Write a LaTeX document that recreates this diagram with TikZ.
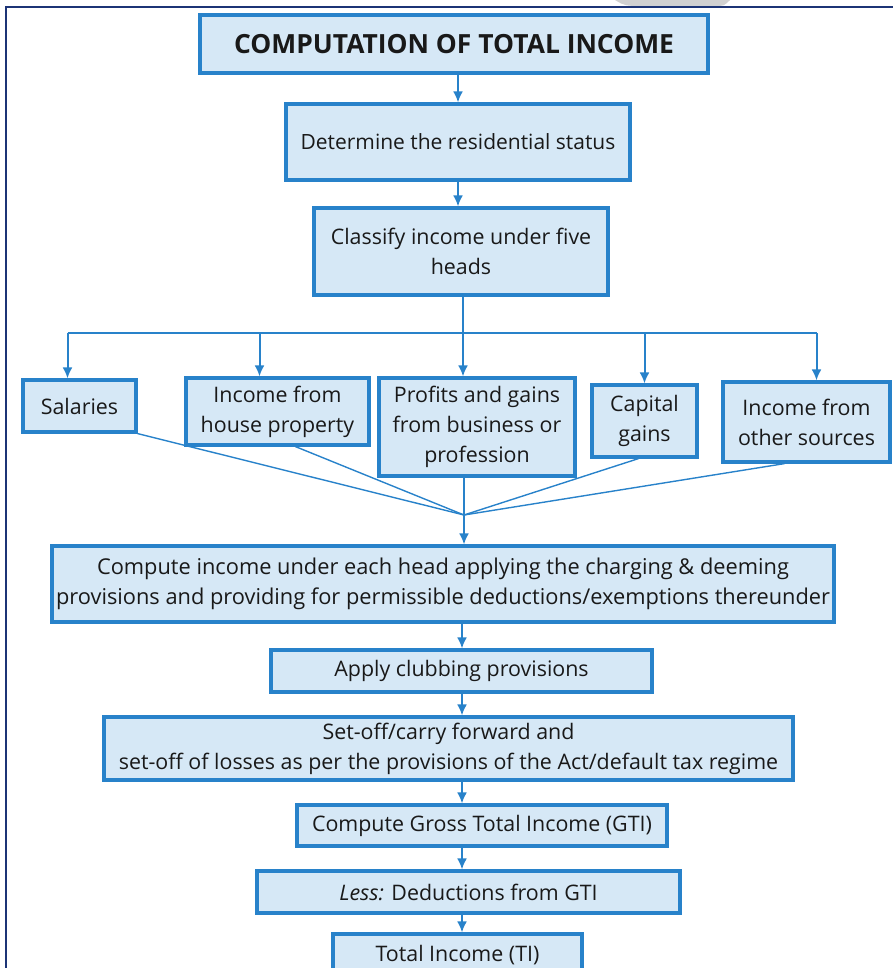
\documentclass[tikz,border=0pt]{standalone}
\usepackage{fontspec}
\setmainfont{Open Sans}
\usetikzlibrary{arrows.meta}
\definecolor{boxline}{RGB}{40,130,202}
\definecolor{boxfill}{RGB}{214,232,246}
\definecolor{framenavy}{RGB}{28,52,118}
\begin{document}
\begin{tikzpicture}[x=0.5pt, y=-0.5pt]
                \tikzstyle{every node}=[rectangle, fill=boxfill, draw=boxline, line width=1.6pt, inner sep=0pt, align=center, text=black!90, font=\fontsize{10.7}{15}\selectfont]
                \tikzstyle{link}=[boxline, line width=1pt]
                \tikzstyle{arr}=[link, -{Latex[length=5.5pt, width=5pt]}]
                \tikzstyle{feed}=[boxline, line width=0.7pt]

                \useasboundingbox (0,0) rectangle (893,968);
                \clip (0,0) rectangle (893,968);
                \fill[black!18] (615,0) .. controls (625,6) .. (645,6) -- (715,6) .. controls (724,6) .. (730,0) -- cycle;
                \draw[framenavy, line width=1pt] (893,7) -| (6,968);

                \node[line width=2.2pt, minimum width=254pt, minimum height=29pt, font=\fontsize{13.2}{15}\selectfont\bfseries] (title) at (454,44) {COMPUTATION OF TOTAL INCOME};
                \node[minimum width=172pt, minimum height=38pt, font=\fontsize{10.5}{15}\selectfont] (res) at (458,142) {Determine the residential status};
                \node[minimum width=147pt, minimum height=43.5pt] (cls) at (461,251.5) {Classify income under five\\heads};

                \node[minimum width=56.5pt, minimum height=26pt] (sal) at (79.5,406) {Salaries};
                \node[minimum width=91.5pt, minimum height=33.5pt] (hp) at (277.5,411.5) {Income from\\house property};
                \node[minimum width=98pt, minimum height=49pt] (pgbp) at (477,427) {Profits and gains\\from business or\\profession};
                \node[minimum width=52.5pt, minimum height=36pt] (cg) at (644.5,421) {Capital\\gains};
                \node[minimum width=83.5pt, minimum height=40pt] (oth) at (806.5,422) {Income from\\other sources};

                \node[minimum width=391pt, minimum height=38pt, font=\fontsize{10.9}{15}\selectfont] (comp) at (443,584) {Compute income under each head applying the charging \& deeming\\provisions and providing for permissible deductions/exemptions thereunder};
                \node[minimum width=190.5pt, minimum height=21pt] (club) at (461.5,671) {Apply clubbing provisions};
                \node[minimum width=344.5pt, minimum height=31.5pt] (setoff) at (448.5,748.5) {Set-off/carry forward and\\set-off of losses as per the provisions of the Act/default tax regime};
                \node[minimum width=185pt, minimum height=20.5pt] (gti) at (482,825.5) {Compute Gross Total Income (GTI)};
                \node[minimum width=211.5pt, minimum height=21pt] (less) at (468.5,892) {\textit{Less:} Deductions from GTI};
                \node[minimum width=124.5pt, minimum height=21pt] (ti) at (457.5,955) {Total Income (TI)};

                \coordinate (spine) at (462,0);
                \coordinate (split) at (463,333);
                \coordinate (merge) at (464,515);

                \draw[arr] (title.south -| res) -- (res.north -| res);
                \draw[arr] (res.south) -- (cls.north -| res);
                \draw[link] (cls.south -| split) -- (split);
                \draw[link] ([xshift=-6pt]sal.north |- split) -- ([xshift=5pt]oth.north |- split);
                \draw[arr] ([xshift=-6pt]sal.north |- split) -- ([xshift=-6pt]sal.north);
                \draw[arr] ([xshift=-9pt]hp.north |- split) -- ([xshift=-9pt]hp.north);
                \draw[arr] (split) -- (pgbp.north -| split);
                \draw[arr] (cg.north |- split) -- (cg.north);
                \draw[arr] ([xshift=5pt]oth.north |- split) -- ([xshift=5pt]oth.north);

                \draw[feed] (sal.south east) -- (merge);
                \draw[feed] ([xshift=9pt]hp.south) -- (merge);
                \draw[feed] (pgbp.south -| merge) -- (merge);
                \draw[feed] ([xshift=-3pt]cg.south) -- (merge);
                \draw[feed] ([xshift=-11pt]oth.south) -- (merge);
                \draw[arr] (merge) -- (comp.north -| merge);

                \draw[arr] (comp.south -| spine) -- (club.north -| spine);
                \draw[arr] (club.south -| spine) -- (setoff.north -| spine);
                \draw[arr] (setoff.south -| spine) -- (gti.north -| spine);
                \draw[arr] (gti.south -| spine) -- (less.north -| spine);
                \draw[arr] (less.south -| spine) -- (ti.north -| spine);
\end{tikzpicture}
\end{document}
